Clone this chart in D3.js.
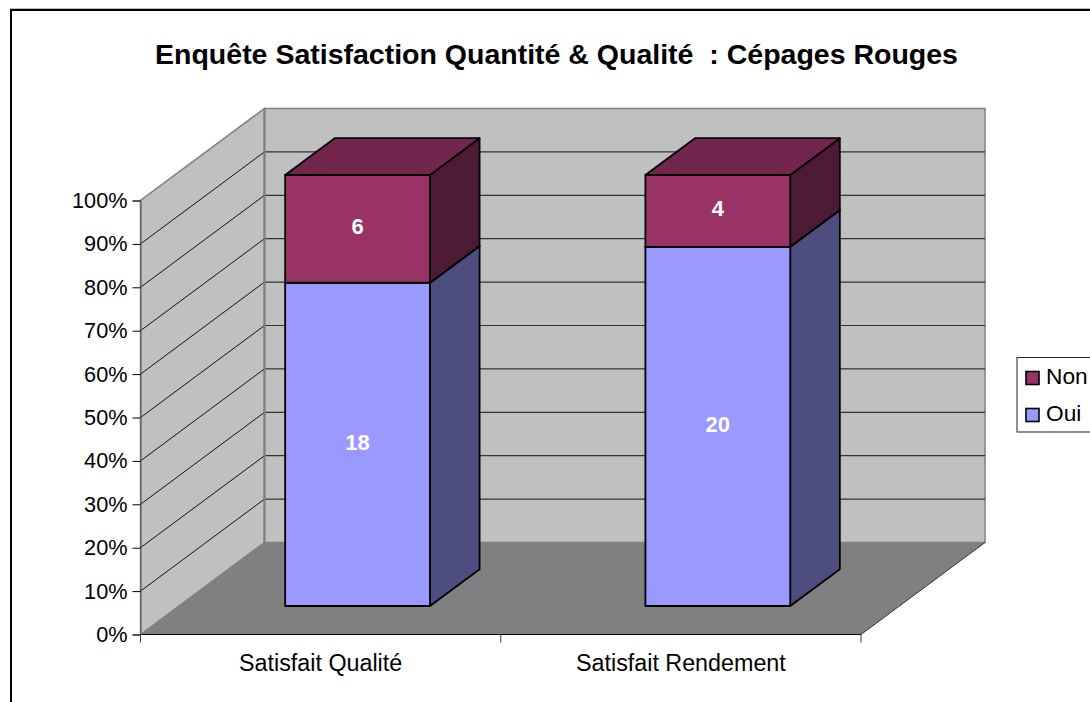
<!DOCTYPE html>
<html>
<head>
<meta charset="utf-8">
<script src="https://cdn.jsdelivr.net/npm/d3@7"></script>
<style>
  html, body { margin: 0; padding: 0; background: #fff; overflow: hidden; }
  text { font-family: "Liberation Sans", Arial, sans-serif; }
</style>
</head>
<body>
<div id="chart"></div>
<script>
// chart values
var categories = ["Satisfait Qualité", "Satisfait Rendement"];
var seriesNames = ["Oui", "Non"];
var oui = [18, 20];
var non = [6, 4];
var percentTicks = [0, 10, 20, 30, 40, 50, 60, 70, 80, 90, 100];
var legendOrder = ["Non", "Oui"];
var title = "Enquête Satisfaction Quantité & Qualité  : Cépages Rouges";

var svgWidth = 1090;
var svgHeight = 702;

var svg = d3.select("#chart").append("svg")
  .attr("width", svgWidth)
  .attr("height", svgHeight);

// outer frame, runs off the right and bottom of the picture
svg.append("rect")
  .attr("x", 11).attr("y", 10)
  .attr("width", 1200).attr("height", 900)
  .attr("fill", "#fff").attr("stroke", "#000").attr("stroke-width", 2);
svg.append("line")
  .attr("x1", 10).attr("x2", svgWidth).attr("y1", 8.5).attr("y2", 8.5)
  .attr("stroke", "#bbb").attr("stroke-width", 1);

svg.append("text")
  .attr("x", 556.5).attr("y", 64)
  .attr("text-anchor", "middle")
  .attr("font-size", "28.5px").attr("font-weight", "bold")
  .attr("xml:space", "preserve")
  .style("white-space", "pre")
  .text(title);

// scales: x along the categories, y up the front plane, z is depth into the box
var xScale = d3.scaleBand().domain(categories).range([140.5, 861]);
var yScale = d3.scaleLinear().domain([0, 100]).range([634.5, 200.5]);
var yBar = d3.scaleLinear().domain([0, 1]).range([634.5, 203.5]);
var zX = d3.scaleLinear().domain([0, 1]).range([0, 124]);
var zY = d3.scaleLinear().domain([0, 1]).range([0, -92]);

// 3d point to screen point
function pt(x, y, z) {
  return [x + zX(z), y + zY(z)];
}
function poly(points) {
  return points.map(function(p) { return p.join(","); }).join(" ");
}

var x0 = xScale.range()[0], x1 = xScale.range()[1];
var y0 = yScale(0), y100 = yScale(100);

// left wall
svg.append("polygon")
  .attr("points", poly([pt(x0, y0, 0), pt(x0, y100, 0), pt(x0, y100, 1), pt(x0, y0, 1)]))
  .attr("fill", "#c0c0c0").attr("stroke", "#808080").attr("stroke-width", 1.5);

// back wall
svg.append("polygon")
  .attr("points", poly([pt(x0, y0, 1), pt(x0, y100, 1), pt(x1, y100, 1), pt(x1, y0, 1)]))
  .attr("fill", "#c0c0c0").attr("stroke", "#808080").attr("stroke-width", 1.5);

// floor
svg.append("polygon")
  .attr("points", poly([pt(x0, y0, 0), pt(x1, y0, 0), pt(x1, y0, 1), pt(x0, y0, 1)]))
  .attr("fill", "#808080");

// gridlines on both walls
var gridTicks = percentTicks.slice(1, -1);
svg.selectAll(".gridSide").data(gridTicks).enter().append("line")
  .attr("class", "gridSide")
  .attr("x1", pt(x0, 0, 0)[0]).attr("x2", pt(x0, 0, 1)[0])
  .attr("y1", function(d) { return pt(x0, yScale(d), 0)[1]; })
  .attr("y2", function(d) { return pt(x0, yScale(d), 1)[1]; })
  .attr("stroke", "#111").attr("stroke-width", 1);
svg.selectAll(".gridBack").data(gridTicks).enter().append("line")
  .attr("class", "gridBack")
  .attr("x1", pt(x0, 0, 1)[0]).attr("x2", pt(x1, 0, 1)[0])
  .attr("y1", function(d) { return pt(x0, yScale(d), 1)[1]; })
  .attr("y2", function(d) { return pt(x0, yScale(d), 1)[1]; })
  .attr("stroke", "#333").attr("stroke-width", 1.2);

// wall edge over the grid ends
svg.append("line")
  .attr("x1", pt(x0, y0, 1)[0]).attr("y1", pt(x0, y0, 1)[1])
  .attr("x2", pt(x0, y100, 1)[0]).attr("y2", pt(x0, y100, 1)[1])
  .attr("stroke", "#808080").attr("stroke-width", 2);

// floor edges
svg.append("line")
  .attr("x1", x0).attr("y1", y0).attr("x2", x1).attr("y2", y0)
  .attr("stroke", "#000").attr("stroke-width", 1);
svg.append("line")
  .attr("x1", x1).attr("y1", y0)
  .attr("x2", pt(x1, y0, 1)[0]).attr("y2", pt(x1, y0, 1)[1])
  .attr("stroke", "#333").attr("stroke-width", 1);

// axes
var leftAxis = d3.axisLeft(yScale)
  .tickValues(percentTicks)
  .tickSize(8)
  .tickPadding(5)
  .tickFormat(function(d) { return d + "%"; });
var yAxisG = svg.append("g").attr("transform", "translate(" + x0 + ",0)").call(leftAxis);
yAxisG.select(".domain").attr("stroke", "#555");
yAxisG.selectAll("text").attr("font-size", "21.7px").attr("fill", "#000")
  .style("font-family", "'Liberation Sans', Arial, sans-serif");

var bottomAxis = d3.axisBottom(xScale).tickSize(0).tickPadding(20);
var xAxisG = svg.append("g").attr("transform", "translate(0," + y0 + ")").call(bottomAxis);
xAxisG.select(".domain").remove();
xAxisG.selectAll("text").attr("font-size", "23.3px").attr("fill", "#000")
  .style("font-family", "'Liberation Sans', Arial, sans-serif");

// tick marks sit on the band edges
var bandEdges = categories.map(function(c) { return xScale(c); }).concat([x1]);
svg.selectAll(".edgeTick").data(bandEdges).enter().append("line")
  .attr("class", "edgeTick")
  .attr("x1", function(d) { return d; }).attr("x2", function(d) { return d; })
  .attr("y1", y0).attr("y2", y0 + 8)
  .attr("stroke", "#333").attr("stroke-width", 1);

// stacked 100% bars
var rows = categories.map(function(c, i) { return { cat: c, Oui: oui[i], Non: non[i] }; });
var stacked = d3.stack().keys(seriesNames).offset(d3.stackOffsetExpand)(rows);

var colors = {
  Oui: { front: "#9999ff", side: "#4d4d80", top: "#7373bf" },
  Non: { front: "#993366", side: "#4d1a33", top: "#73264d" }
};

var barShare = 0.402;   // bar width as share of the band
var barShift = -1.5;
var zFront = 0.31, zBack = 0.71;

stacked.forEach(function(layer) {
  var c = colors[layer.key];
  var g = svg.append("g").selectAll("g").data(layer).enter().append("g");

  function corners(d) {
    var left = xScale(d.data.cat) + xScale.bandwidth() * (1 - barShare) / 2 + barShift;
    var right = left + xScale.bandwidth() * barShare;
    return { left: left, right: right, bottom: yBar(d[0]), top: yBar(d[1]) };
  }

  g.append("polygon")
    .attr("points", function(d) {
      var b = corners(d);
      return poly([pt(b.right, b.bottom, zFront), pt(b.right, b.top, zFront), pt(b.right, b.top, zBack), pt(b.right, b.bottom, zBack)]);
    })
    .attr("fill", c.side);

  g.append("polygon")
    .attr("points", function(d) {
      var b = corners(d);
      return poly([pt(b.left, b.top, zFront), pt(b.right, b.top, zFront), pt(b.right, b.top, zBack), pt(b.left, b.top, zBack)]);
    })
    .attr("fill", c.top);

  g.append("polygon")
    .attr("points", function(d) {
      var b = corners(d);
      return poly([pt(b.left, b.bottom, zFront), pt(b.right, b.bottom, zFront), pt(b.right, b.top, zFront), pt(b.left, b.top, zFront)]);
    })
    .attr("fill", c.front);

  g.selectAll("polygon").attr("stroke", "#000").attr("stroke-width", 1.8).attr("stroke-linejoin", "round");

  g.append("text")
    .attr("x", function(d) {
      var b = corners(d);
      return pt((b.left + b.right) / 2, 0, zFront)[0];
    })
    .attr("y", function(d) {
      var b = corners(d);
      return pt(0, (b.top + b.bottom) / 2, zFront)[1];
    })
    .attr("dy", "0.24em")
    .attr("text-anchor", "middle")
    .attr("fill", "#fff").attr("font-weight", "bold").attr("font-size", "22px")
    .text(function(d) { return d.data[layer.key]; });
});

// legend, also cut by the right edge
var legend = svg.append("g");
legend.append("rect")
  .attr("x", 1017).attr("y", 357.5).attr("width", 120).attr("height", 74.5)
  .attr("fill", "#fff").attr("stroke", "#222").attr("stroke-width", 1);

var legendY = d3.scalePoint().domain(legendOrder).range([376, 413]);
var legendItems = legend.selectAll(".item").data(legendOrder).enter().append("g").attr("class", "item");
legendItems.append("rect")
  .attr("x", 1026)
  .attr("y", function(d) { return legendY(d) - 4.5; })
  .attr("width", 13).attr("height", 13)
  .attr("fill", function(d) { return colors[d].front; })
  .attr("stroke", "#000").attr("stroke-width", 1.6);
legendItems.append("text")
  .attr("x", 1046)
  .attr("y", function(d) { return legendY(d); })
  .attr("dy", "0.36em")
  .attr("font-size", "22.7px")
  .text(function(d) { return d; });
</script>
</body>
</html>
